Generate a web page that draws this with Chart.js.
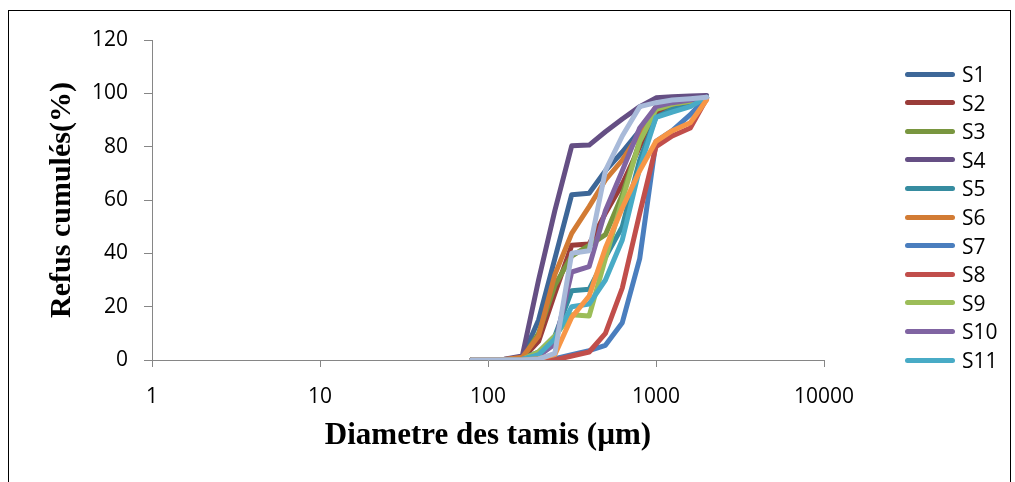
<!DOCTYPE html>
<html lang="fr">
<head>
<meta charset="utf-8">
<title>Refus cumulés</title>
<script src="https://cdn.jsdelivr.net/npm/chart.js@4.4.1/dist/chart.umd.min.js"></script>
<style>
    html, body { margin: 0; padding: 0; background: #fff; }
    #wrap { position: relative; width: 1015px; height: 482px; overflow: hidden; }
    #frame {
        position: absolute; left: 8px; top: 10px; width: 1003px; height: 500px;
        border: 1.5px solid #000; box-sizing: border-box; pointer-events: none;
    }
    #legend { position: absolute; left: 0; top: 0; font-family: 'Open Sans', sans-serif; font-size: 21px; color: #000; }
    .lg-line { position: absolute; left: 905px; width: 50px; height: 5px; border-radius: 3px; }
    .lg-text { position: absolute; left: 962px; line-height: 28px; white-space: nowrap; }
</style>
</head>
<body>
<div id="wrap">
    <canvas id="granuloChart" width="1015" height="482"></canvas>
    <div id="legend"></div>
    <div id="frame"></div>
</div>
<script>
// ============================================================================
// Data
// ============================================================================

// Sieve openings (µm)
const sieveSizes = [80, 100, 125, 160, 200, 250, 315, 400, 500, 630, 800, 1000, 1250, 1600, 2000];

// Cumulative retained (%) per sample
const s1  = [0, 0, 0.2, 1, 15, 38, 62, 62.5, 71, 78, 86, 93, 96, 98, 99];
const s2  = [0, 0, 0.1, 0.5, 7, 25, 43, 43.5, 55, 66, 80, 92, 95, 97, 98.5];
const s3  = [0, 0, 0.1, 0.5, 10, 28, 39, 43, 47, 62, 82, 94, 95.5, 97, 98.5];
const s4  = [0, 0, 0.3, 1.5, 30, 56, 80.3, 80.6, 85.6, 90.4, 95, 98.3, 98.7, 99, 99.2];
const s5  = [0, 0, 0.1, 0.5, 3, 9, 26, 26.5, 38.5, 50, 75, 91, 94, 96, 98.5];
const s6  = [0, 0, 0.2, 1, 9, 32, 47.5, 57.5, 67.5, 75, 85, 95, 96, 97, 98];
const s7  = [0, 0, 0, 0, 0, 0.5, 2, 3.5, 5.5, 14, 38, 82, 86, 92, 98.5];
const s8  = [0, 0, 0, 0, 0, 0, 1.5, 3, 10, 27, 55, 80, 84, 87, 98];
const s9  = [0, 0, 0, 0.3, 3, 9, 17, 16.5, 38, 60, 82, 94, 96, 97, 98.5];
const s10 = [0, 0, 0, 0.3, 1.5, 6, 33, 35, 56, 71, 87, 95, 96.5, 97.5, 98.5];
const s11 = [0, 0, 0, 0.2, 2, 8, 20, 21, 30, 45, 72, 91, 93, 95, 98.5];
const s12 = [0, 0, 0, 0, 0.5, 2, 16, 24, 42, 57, 71, 82, 86, 89, 97.5];
const s13 = [0, 0, 0, 0, 0.3, 2.5, 40, 41, 71, 84, 95, 96.5, 97.5, 98, 98.5];

const seriesNames = ['S1', 'S2', 'S3', 'S4', 'S5', 'S6', 'S7', 'S8', 'S9', 'S10', 'S11', 'S12', 'S13'];
const seriesValues = [s1, s2, s3, s4, s5, s6, s7, s8, s9, s10, s11, s12, s13];
const seriesColors = [
    '#3D6798', '#9A3C39', '#79963F', '#654F84', '#368CA0', '#D27B34',
    '#4A7EBE', '#C14E4B', '#9CBD58', '#8064A2', '#48ABC6', '#F79646', '#A8BAD9'
];

// Axis ticks
const xTicks = [1, 10, 100, 1000, 10000];
const yMin = 0;
const yMax = 120;
const yStep = 20;

// Only the first 11 entries fit in the original legend
const legendCount = 11;

// ============================================================================
// Chart
// ============================================================================

const tickFont = { family: "'Open Sans', sans-serif", size: 21 };
const titleFont = { family: "'Liberation Serif', 'Times New Roman', serif", size: 31, weight: 'bold' };
const axisGray = '#868686';

const datasets = seriesValues.map((vals, i) => ({
    label: seriesNames[i],
    data: sieveSizes.map((x, j) => ({ x: x, y: vals[j] })),
    borderColor: seriesColors[i],
    backgroundColor: seriesColors[i],
    borderWidth: 5,
    borderJoinStyle: 'round',
    borderCapStyle: 'round',
    pointRadius: 0,
    tension: 0,
    fill: false,
    // last series on top, like the spreadsheet
    order: seriesValues.length - i
}));

const chart = new Chart(document.getElementById('granuloChart'), {
    type: 'line',
    data: { datasets: datasets },
    options: {
        responsive: false,
        animation: false,
        layout: { padding: { left: 0, top: 40, right: 191, bottom: 0 } },
        plugins: {
            legend: { display: false },
            tooltip: { enabled: false }
        },
        scales: {
            x: {
                type: 'logarithmic',
                min: xTicks[0],
                max: xTicks[xTicks.length - 1],
                afterBuildTicks: (scale) => { scale.ticks = xTicks.map(v => ({ value: v })); },
                afterFit: (scale) => { scale.height = 122; },
                ticks: {
                    color: '#000',
                    font: tickFont,
                    padding: 17,
                    maxRotation: 0,
                    autoSkip: false,
                    callback: (v) => String(v)
                },
                grid: { drawOnChartArea: false, drawTicks: true, tickLength: 7, color: axisGray },
                border: { color: axisGray, width: 1 },
                title: {
                    display: true,
                    text: 'Diametre des tamis (µm)',
                    color: '#000',
                    font: titleFont,
                    padding: { top: 0, bottom: 27 }
                }
            },
            y: {
                min: yMin,
                max: yMax,
                afterFit: (scale) => { scale.width = 152; },
                ticks: {
                    stepSize: yStep,
                    color: '#000',
                    font: tickFont,
                    padding: 16
                },
                grid: { drawOnChartArea: false, drawTicks: true, tickLength: 8, color: axisGray },
                border: { color: axisGray, width: 1 },
                title: {
                    display: true,
                    text: 'Refus cumulés(%)',
                    color: '#000',
                    font: { family: titleFont.family, size: 30, weight: 'bold' },
                    padding: { top: 44, bottom: 0 }
                }
            }
        }
    }
});

// ============================================================================
// Legend (HTML, first entries only)
// ============================================================================
const legendEl = document.getElementById('legend');
const legendTop = 74;
const legendStep = 28.6;
chart.data.datasets.slice(0, legendCount).forEach((ds, i) => {
    const cy = legendTop + i * legendStep;
    const line = document.createElement('div');
    line.className = 'lg-line';
    line.style.top = (cy - 2.5) + 'px';
    line.style.background = ds.borderColor;
    const text = document.createElement('div');
    text.className = 'lg-text';
    text.style.top = (cy - 14) + 'px';
    text.textContent = ds.label;
    legendEl.appendChild(line);
    legendEl.appendChild(text);
});
</script>
</body>
</html>
